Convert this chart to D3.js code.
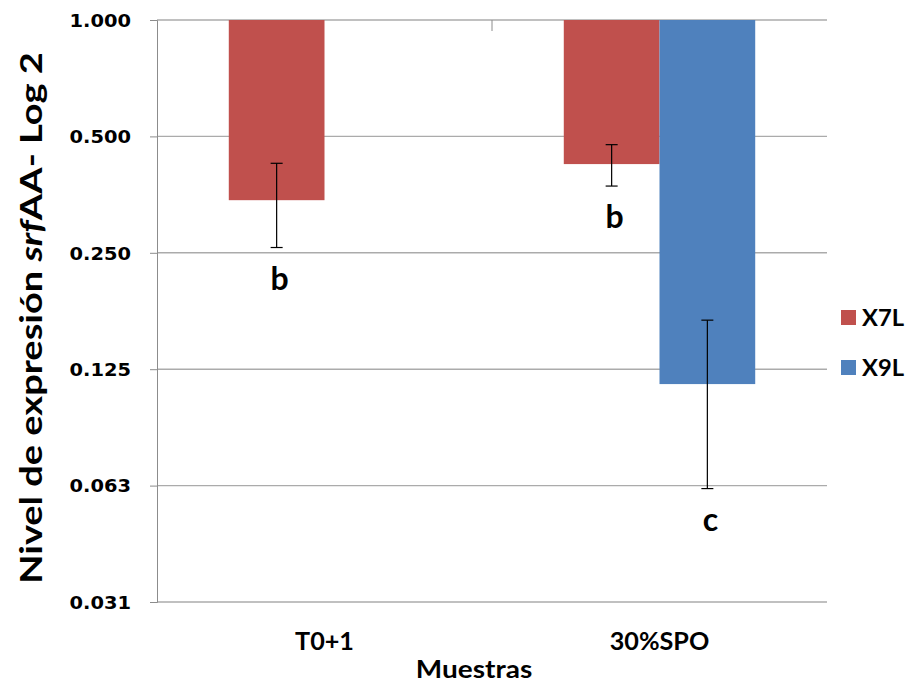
<!DOCTYPE html>
<html>
<head>
<meta charset="utf-8">
<script src="https://cdn.jsdelivr.net/npm/d3@7/dist/d3.min.js"></script>
<style>
  html, body { margin: 0; padding: 0; background: #fff; }
  svg { display: block; }
  text { font-family: Lato, "Open Sans", sans-serif; fill: #000; }
</style>
</head>
<body>
<svg id="chart" width="907" height="684"></svg>
<script>
// Relative expression of srfAA (log2 axis), bars hang from 1.0
const categories = ["T0+1", "30%SPO"];
const series = ["X7L", "X9L"];
const x7lValues = [0.342, 0.424];
const x9lValues = [null, 0.1144];
const x7lErrors = [0.084, 0.052];
const x9lErrors = [null, 0.053];
const x7lLetters = ["b", "b"];
const x9lLetters = [null, "c"];
const yTickValues = [1, 0.5, 0.25, 0.125, 0.0625, 0.03125];
const seriesColors = ["#C0504D", "#4F81BD"];

const plot = { left: 157, right: 827, top: 20, bottom: 602 };

const svg = d3.select("#chart");

const y = d3.scaleLog().base(2)
  .domain([yTickValues[yTickValues.length - 1], yTickValues[0]])
  .range([plot.bottom, plot.top]);

const x0 = d3.scaleBand().domain(categories)
  .range([plot.left, plot.right]).paddingInner(0).paddingOuter(0);
const gapRatio = 1.5; // gap = 150% of bar width
const barW = x0.bandwidth() / (series.length + gapRatio);
const x1 = d3.scaleBand().domain(series)
  .range([barW * gapRatio / 2, barW * gapRatio / 2 + barW * series.length]);

const rows = [];
categories.forEach((c, i) => {
  [[x7lValues, x7lErrors, x7lLetters], [x9lValues, x9lErrors, x9lLetters]].forEach((arr, s) => {
    if (arr[0][i] != null) rows.push({ cat: c, ser: series[s], s, v: arr[0][i], e: arr[1][i], letter: arr[2][i] });
  });
});
const barCenter = d => x0(d.cat) + x1(d.ser) + x1.bandwidth() / 2;

// gridlines
svg.append("g").selectAll("line").data(yTickValues).join("line")
  .attr("x1", plot.left).attr("x2", plot.right)
  .attr("y1", d => y(d)).attr("y2", d => y(d))
  .attr("stroke", "#ababab").attr("stroke-width", 1.4);

// bars from 1.0 down to the value
svg.append("g").selectAll("rect").data(rows).join("rect")
  .attr("x", d => x0(d.cat) + x1(d.ser))
  .attr("width", x1.bandwidth())
  .attr("y", y(1))
  .attr("height", d => y(d.v) - y(1))
  .attr("fill", d => seriesColors[d.s]);

// error bars
const eb = svg.append("g").attr("stroke", "#000").attr("stroke-width", 1.2);
rows.forEach(d => {
  const cx = barCenter(d);
  const yt = y(d.v + d.e), yb = y(d.v - d.e);
  eb.append("line").attr("x1", cx).attr("x2", cx).attr("y1", yt).attr("y2", yb);
  eb.append("line").attr("x1", cx - 6).attr("x2", cx + 6).attr("y1", yt).attr("y2", yt);
  eb.append("line").attr("x1", cx - 6).attr("x2", cx + 6).attr("y1", yb).attr("y2", yb);
});

// value axis
const yAxis = svg.append("g").attr("transform", `translate(${plot.left},0)`)
  .call(d3.axisLeft(y).tickValues(yTickValues).tickSize(7).tickFormat(""));
yAxis.select(".domain").attr("stroke", "#8c8c8c");
yAxis.selectAll(".tick line").attr("stroke", "#8c8c8c");

// category boundary tick on the 1.0 line
svg.append("line")
  .attr("x1", x0(categories[1])).attr("x2", x0(categories[1]))
  .attr("y1", plot.top).attr("y2", plot.top + 11)
  .attr("stroke", "#8c8c8c");

function label(g, x, y, txt, opts) {
  const sx = opts.sx || 1;
  const t = g.append("g")
    .attr("transform", `translate(${x},${y}) scale(${sx},1)` + (opts.rotate ? ` rotate(${opts.rotate})` : ""))
    .append("text")
    .attr("text-anchor", opts.anchor || "middle")
    .style("font-size", opts.size + "px")
    .style("font-weight", 700);
  if (opts.family) t.style("font-family", opts.family);
  if (typeof txt === "string") t.text(txt);
  else txt(t);
  return t;
}

// tick labels
const fmt = d3.format(".3f");
yTickValues.forEach(v => label(svg, 131, y(v) + 6.7, fmt(v),
  { anchor: "end", size: 18, sx: 1.08, family: "'DejaVu Sans', sans-serif" }));

// axis titles
label(svg, 42, 318, t => {
  t.append("tspan").text("Nivel de expresión ");
  t.append("tspan").style("font-style", "italic").text("srf");
  t.append("tspan").text("AA- Log 2");
}, { rotate: -90, size: 38, sx: 0.78 });

categories.forEach(c => label(svg, x0(c) + x0.bandwidth() / 2, 650, c, { size: 24, sx: 1.05 }));
label(svg, 474, 678, "Muestras", { size: 25, sx: 1.12 });

// significance letters under the error bars
rows.filter(d => d.letter).forEach(d => {
  label(svg, barCenter(d) + 3, y(d.v - d.e) + 42, d.letter, { size: 32 });
});

// legend
const lg = svg.append("g");
series.forEach((s, i) => {
  lg.append("rect").attr("x", 841).attr("y", 310 + i * 50).attr("width", 15).attr("height", 15)
    .attr("fill", seriesColors[i]);
  label(lg, 862, 326 + i * 50, s, { anchor: "start", size: 22, sx: 1.08 });
});
</script>
</body>
</html>
